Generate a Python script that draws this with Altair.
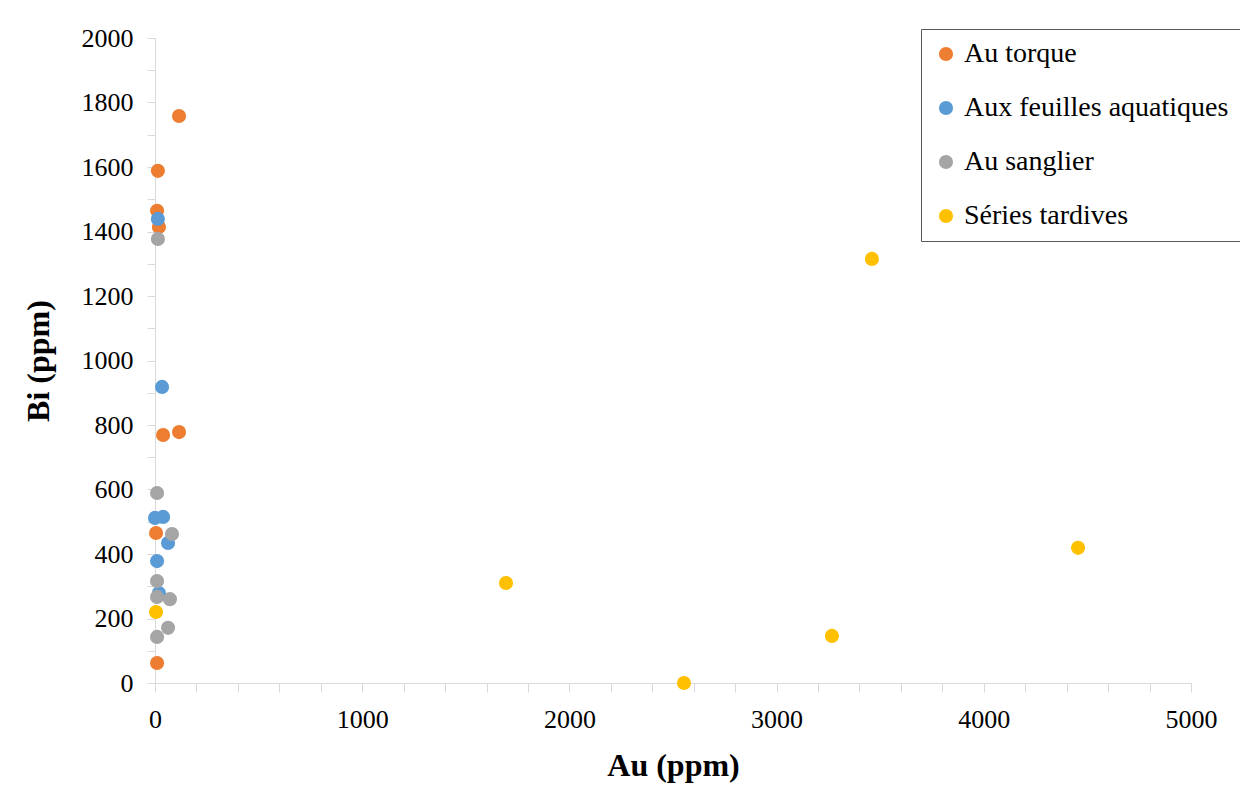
import altair as alt
import pandas as pd

series_names = ["Au torque", "Aux feuilles aquatiques", "Au sanglier", "Séries tardives"]
series_colors = ["#ED7D31", "#5B9BD5", "#A5A5A5", "#FFC000"]

torque_au = [116, 14, 10, 19, 39, 116, 5, 10]
torque_bi = [1758, 1588, 1464, 1414, 769, 778, 465, 62]

feuilles_au = [14, 34, 0, 39, 63, 10, 19]
feuilles_bi = [1439, 918, 512, 515, 434, 378, 279]

sanglier_au = [14, 10, 82, 10, 10, 72, 10, 63]
sanglier_bi = [1377, 589, 462, 316, 267, 260, 143, 171]

tardives_au = [5, 1694, 2553, 3267, 3460, 4455]
tardives_bi = [220, 310, 0, 146, 1315, 419]

rows = []
for name, xs, ys in [
    (series_names[0], torque_au, torque_bi),
    (series_names[1], feuilles_au, feuilles_bi),
    (series_names[2], sanglier_au, sanglier_bi),
    (series_names[3], tardives_au, tardives_bi),
]:
    for xv, yv in zip(xs, ys):
        rows.append({"Serie": name, "Au": xv, "Bi": yv})
df = pd.DataFrame(rows)

x_ticks = list(range(0, 5001, 200))
y_ticks = list(range(0, 2001, 100))

FONT = "Liberation Serif"

chart = alt.Chart(df).mark_circle(size=200, opacity=1).encode(
    x=alt.X(
        "Au:Q",
        scale=alt.Scale(domain=[0, 5000], nice=False, zero=False),
        axis=alt.Axis(
            title="Au (ppm)",
            values=x_ticks,
            labelExpr="datum.value % 1000 == 0 ? datum.label : ''",
            format="d",
            grid=False,
            tickSize=9,
            labelPadding=14,
            labelFlush=False,
            labelOverlap=False,
            titleY=92,
            titleBaseline="alphabetic",
        ),
    ),
    y=alt.Y(
        "Bi:Q",
        scale=alt.Scale(domain=[0, 2000], nice=False, zero=False),
        axis=alt.Axis(
            title="Bi (ppm)",
            values=y_ticks,
            labelExpr="datum.value % 200 == 0 ? datum.label : ''",
            format="d",
            grid=False,
            tickSize=8,
            labelPadding=14,
            labelFlush=False,
            labelOverlap=False,
            titleX=-107,
            titleBaseline="alphabetic",
        ),
    ),
    color=alt.Color(
        "Serie:N",
        sort=series_names,
        scale=alt.Scale(domain=series_names, range=series_colors),
        legend=alt.Legend(
            title=None,
            orient="none",
            legendX=766,
            legendY=-9,
            symbolType="circle",
            symbolSize=200,
            symbolOpacity=1,
            symbolStrokeWidth=0,
            labelFontSize=28,
            labelFont=FONT,
            labelColor="#000000",
            labelOffset=4,
            rowPadding=26,
            padding=11,
            strokeColor="#595959",
            fillColor="#FFFFFF",
            labelLimit=400,
        ),
    ),
).properties(
    width=1036,
    height=645,
    autosize=alt.AutoSizeParams(type="none"),
    padding={"left": 147, "top": 30, "right": 49, "bottom": 100},
    background="#FFFFFF",
).configure_view(
    stroke=None
).configure_axis(
    domainColor="#D9D9D9",
    tickColor="#D9D9D9",
    labelFont=FONT,
    labelFontSize=26,
    labelColor="#000000",
    titleFont=FONT,
    titleFontSize=32,
    titleFontWeight="bold",
    titleColor="#000000",
)

chart.save("out.html", embed_options={"renderer": "svg", "actions": False})
